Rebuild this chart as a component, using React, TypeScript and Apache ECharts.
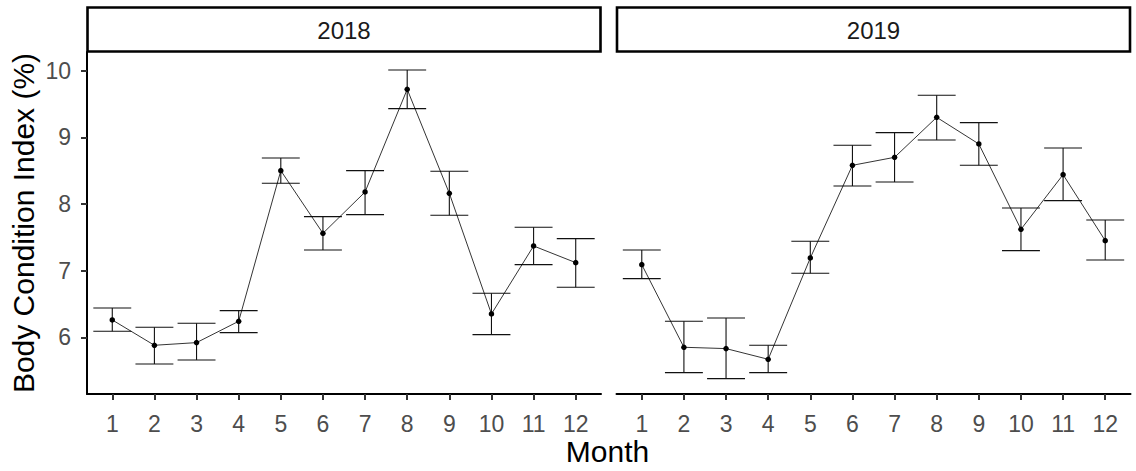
import React, { useEffect, useRef } from "react";
import * as echarts from "echarts";

const months = [1, 2, 3, 4, 5, 6, 7, 8, 9, 10, 11, 12];
const yTicks = [6, 7, 8, 9, 10];
const years = ["2018", "2019"];

const mean2018 = [6.26, 5.88, 5.92, 6.24, 8.5, 7.56, 8.18, 9.72, 8.16, 6.35, 7.37, 7.12];
const low2018 = [6.09, 5.6, 5.66, 6.07, 8.31, 7.31, 7.84, 9.43, 7.83, 6.04, 7.09, 6.75];
const high2018 = [6.44, 6.15, 6.21, 6.4, 8.69, 7.81, 8.5, 10.01, 8.49, 6.66, 7.65, 7.48];

const mean2019 = [7.09, 5.85, 5.83, 5.67, 7.19, 8.58, 8.7, 9.3, 8.9, 7.62, 8.44, 7.45];
const low2019 = [6.88, 5.47, 5.38, 5.47, 6.96, 8.27, 8.33, 8.96, 8.58, 7.3, 8.05, 7.16];
const high2019 = [7.31, 6.24, 6.29, 5.88, 7.44, 8.88, 9.07, 9.63, 9.22, 7.94, 8.84, 7.76];

const FONT = "'Liberation Sans', Arial, sans-serif";

export default function App() {
  const ref = useRef<HTMLDivElement>(null);
  useEffect(() => {
    if (!ref.current) return;
    const chart = echarts.init(ref.current, null, { renderer: "svg" });
    const means = [mean2018, mean2019];
    const lows = [low2018, low2019];
    const highs = [high2018, high2019];
    const gridLefts = [87, 616.5];
    const gridW = 514;
    const gridTop = 52;
    const gridH = 342;

    const grids = gridLefts.map((l) => ({ left: l, top: gridTop, width: gridW, height: gridH }));
    const xAxes = gridLefts.map((_, i) => ({
      type: "value",
      gridIndex: i,
      min: 0.4,
      max: 12.6,
      splitLine: { show: false },
      axisLine: { show: true, onZero: false, lineStyle: { color: "#000", width: 2 } },
      axisTick: { show: true, length: 6, customValues: months, lineStyle: { color: "#333", width: 2 } },
      axisLabel: { customValues: months, color: "#4D4D4D", fontSize: 23, fontFamily: FONT, margin: 18 },
    }));
    const yAxes = gridLefts.map((_, i) => ({
      type: "value",
      gridIndex: i,
      min: 5.149,
      max: 10.28,
      show: i === 0,
      splitLine: { show: false },
      axisLine: { show: true, lineStyle: { color: "#000", width: 2 } },
      axisTick: { show: true, length: 6, customValues: yTicks, lineStyle: { color: "#333", width: 2 } },
      axisLabel: { customValues: yTicks, color: "#4D4D4D", fontSize: 23, fontFamily: FONT, margin: 16 },
    }));

    const series: any[] = [];
    years.forEach((_, i) => {
      series.push({
        type: "custom",
        xAxisIndex: i,
        yAxisIndex: i,
        encode: { x: 0, y: [1, 2] },
        data: months.map((m, k) => [m, lows[i][k], highs[i][k]]),
        renderItem: (params: any, api: any) => {
          const x = api.value(0);
          const lo = api.coord([x, api.value(1)]);
          const hi = api.coord([x, api.value(2)]);
          const hw = api.size([0.9, 0])[0] / 2;
          const st = { stroke: "#111", lineWidth: 1.1 };
          return {
            type: "group",
            children: [
              { type: "line", shape: { x1: lo[0], y1: lo[1], x2: hi[0], y2: hi[1] }, style: st },
              { type: "line", shape: { x1: hi[0] - hw, y1: hi[1], x2: hi[0] + hw, y2: hi[1] }, style: st },
              { type: "line", shape: { x1: lo[0] - hw, y1: lo[1], x2: lo[0] + hw, y2: lo[1] }, style: st },
            ],
          };
        },
        z: 2,
      });
      series.push({
        type: "line",
        xAxisIndex: i,
        yAxisIndex: i,
        data: months.map((m, k) => [m, means[i][k]]),
        symbol: "circle",
        symbolSize: 5.5,
        showSymbol: true,
        itemStyle: { color: "#000" },
        lineStyle: { color: "#000", width: 0.8 },
        z: 3,
      });
    });

    const graphic: any[] = [];
    years.forEach((y, i) => {
      graphic.push({
        type: "rect",
        shape: { x: gridLefts[i] + 0.5, y: 7.5, width: gridW - 1, height: 44 },
        style: { fill: "#fff", stroke: "#000", lineWidth: 2.6 },
      });
      graphic.push({
        type: "text",
        x: gridLefts[i] + gridW / 2,
        y: 30,
        style: { text: y, font: `24px ${FONT}`, fill: "#1A1A1A", textAlign: "center", textVerticalAlign: "middle" },
      });
    });
    graphic.push({
      type: "text",
      x: 23.5,
      y: 223,
      rotation: Math.PI / 2,
      style: {
        text: "Body Condition Index (%)",
        font: `30px ${FONT}`,
        fill: "#000",
        textAlign: "center",
        textVerticalAlign: "middle",
      },
    });
    graphic.push({
      type: "text",
      x: 607.5,
      y: 451,
      style: { text: "Month", font: `30px ${FONT}`, fill: "#000", textAlign: "center", textVerticalAlign: "middle" },
    });

    chart.setOption({
      animation: false,
      backgroundColor: "#fff",
      grid: grids,
      xAxis: xAxes,
      yAxis: yAxes,
      series,
      graphic,
    });
    return () => chart.dispose();
  }, []);
  return <div ref={ref} style={{ position: "fixed", left: 0, top: 0, width: 1136, height: 471 }} />;
}
